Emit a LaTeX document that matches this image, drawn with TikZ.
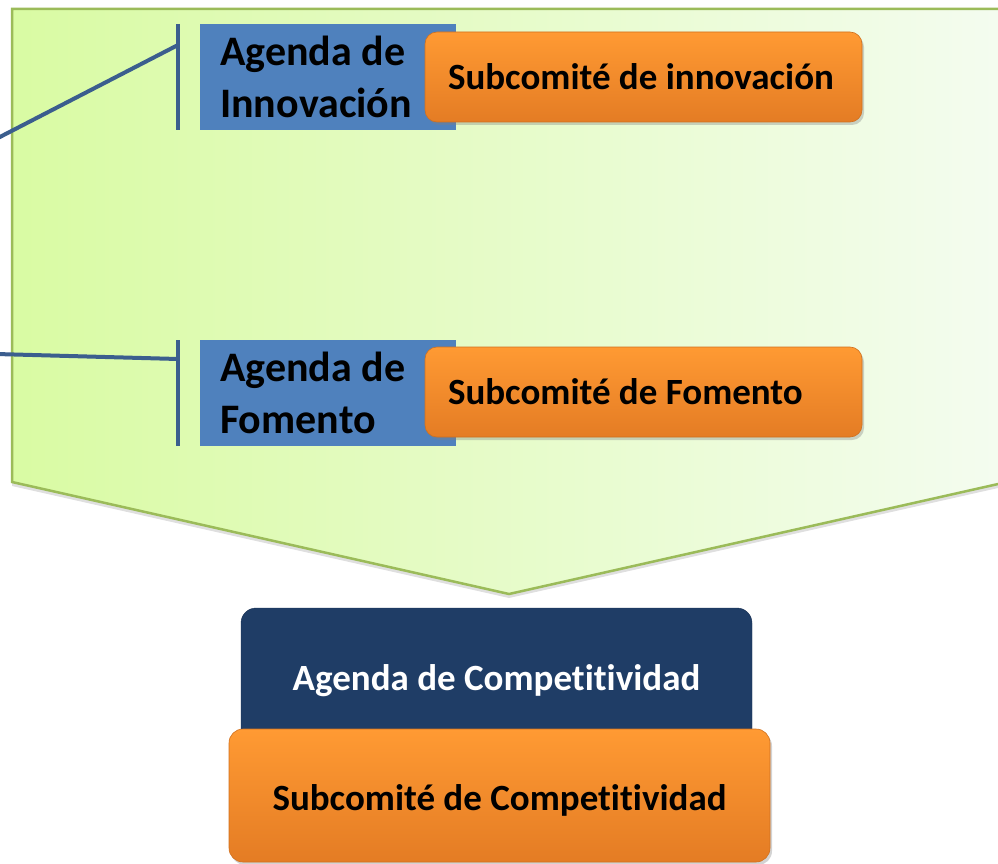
\documentclass[tikz,border=0pt]{standalone}
\usepackage{fontspec}
\setmainfont{Carlito}[Ligatures=CommonOff]
\usepackage{xcolor}
\usepackage{tikz}
\usetikzlibrary{positioning, shadows}

\definecolor{hojaverde}{HTML}{D9FBA3}
\definecolor{hojaclaro}{HTML}{F4FCF0}
\definecolor{bordeverde}{HTML}{9BBB59}
\definecolor{azulagenda}{HTML}{4F81BD}
\definecolor{azullinea}{HTML}{3B5E8E}
\definecolor{azuloscuro}{HTML}{1F3D66}
\definecolor{naranjaalto}{HTML}{FF9A33}
\definecolor{naranjabajo}{HTML}{E47C24}
\definecolor{naranjaborde}{HTML}{D0701F}

\tikzset{
    agenda/.style={fill=azulagenda, anchor=north west, minimum height=106pt,
        text width=216pt, inner xsep=20pt, align=flush left,
        font=\fontsize{42}{52}\selectfont\bfseries},
    subcomite/.style={rounded corners=12pt, top color=naranjaalto, bottom color=naranjabajo,
        draw=naranjaborde, line width=0.6pt,
        drop shadow={opacity=0.35, shadow xshift=2pt, shadow yshift=-3pt},
        text height=31.5pt, text depth=7.4pt,
        font=\fontsize{37}{44}\selectfont\bfseries},
    linea/.style={draw=azullinea, line width=4pt}
}

\begin{document}
\begin{tikzpicture}[x=1pt, y=-1pt]
    \useasboundingbox (0,0) rectangle (998,864);

    % Draw green arrow
    \path[drop shadow={opacity=0.25, shadow xshift=0pt, shadow yshift=-4pt},
        left color=hojaverde, right color=hojaclaro, draw=bordeverde, line width=2.5pt]
        (12,9) -- (1007,9) -- (1007,482) -- (509,594) -- (12,482) -- cycle;

    % Agendas
    \node[agenda] (agendaInnov) at (200,24) {Agenda de\\Innovación};
    \node[agenda] (agendaFom) at (200,340) {Agenda de\\Fomento};

    \coordinate (barInnovTop) at ([xshift=-22pt]agendaInnov.north west);
    \coordinate (barInnovBot) at ([xshift=-22pt]agendaInnov.south west);
    \coordinate (barInnov) at ([xshift=-22pt, yshift=-21pt]agendaInnov.north west);
    \coordinate (inicioInnov) at (-4,139);
    \coordinate (barFomTop) at ([xshift=-22pt]agendaFom.north west);
    \coordinate (barFomBot) at ([xshift=-22pt]agendaFom.south west);
    \coordinate (barFom) at ([xshift=-22pt, yshift=-19pt]agendaFom.north west);
    \coordinate (inicioFom) at (-4,354);

    \draw[linea] (barInnovTop) -- (barInnovBot);
    \draw[linea] (inicioInnov) -- (barInnov);
    \draw[linea] (barFomTop) -- (barFomBot);
    \draw[linea] (inicioFom) -- (barFom);

    % Subcomites
    \node[subcomite, minimum width=437pt, minimum height=90pt, text width=391pt,
        inner xsep=23pt, align=flush left] (subInnov) at (643.5,77)
        {Subcomité de innovación};
    \node[subcomite, minimum width=437pt, minimum height=90pt, text width=391pt,
        inner xsep=23pt, align=flush left] (subFom) at (643.5,392)
        {Subcomité de Fomento};

    % Competitividad
    \node[rounded corners=15pt, fill=azuloscuro, draw=azuloscuro!80!black,
        minimum width=511pt, minimum height=140pt, text=white,
        text height=31.5pt, text depth=7.4pt,
        font=\fontsize{37}{44}\selectfont\bfseries] (agendaComp) at (496.5,678)
        {Agenda de Competitividad};
    \node[subcomite, rounded corners=14pt, minimum width=541pt, minimum height=133pt,
        text height=37pt] (subComp) at (499.5,795.5) {Subcomité de Competitividad};
\end{tikzpicture}
\end{document}
